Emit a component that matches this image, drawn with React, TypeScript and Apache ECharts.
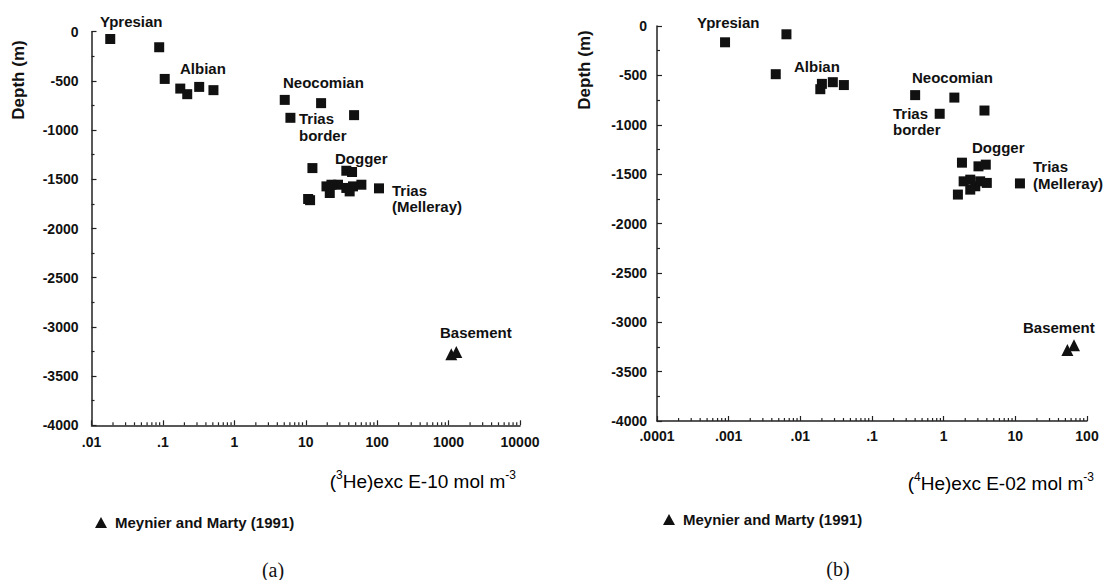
import React, { useEffect, useRef } from "react";
import * as echarts from "echarts";

// ---------- Data ----------
// Panel (a): (3He)exc (E-10 mol m-3) vs depth (m)
const aSquares: [number, number][] = [
  [0.0183, -74], [0.0887, -158], [0.106, -480], [0.175, -578], [0.219, -635], [0.322, -561], [0.51, -594],
  [5.08, -693], [16.4, -726], [6.1, -875], [47.5, -848],
  [12.4, -1386], [37, -1413], [44.5, -1426],
  [19.5, -1572], [21.7, -1639], [28.3, -1555], [37, -1588], [45.9, -1572], [60.1, -1555], [41.2, -1623], [22.9, -1555],
  [10.8, -1700], [11.5, -1712],
  [106, -1592],
];
const aTriangles: [number, number][] = [[1091, -3279], [1282, -3256]];

// Panel (b): (4He)exc (E-02 mol m-3) vs depth (m)
const bSquares: [number, number][] = [
  [0.00089, -165], [0.0064, -84], [0.00454, -488],
  [0.02, -586], [0.019, -640], [0.0284, -569], [0.0405, -598],
  [0.4, -700], [1.41, -725], [0.88, -889], [3.71, -856],
  [1.8, -1384], [3.06, -1421], [3.87, -1404],
  [1.9, -1573], [2.35, -1556], [2.76, -1623], [3.23, -1573], [4.0, -1589], [2.35, -1657], [1.58, -1707],
  [11.6, -1594],
];
const bTriangles: [number, number][] = [[53.2, -3280], [65.9, -3232]];

const aDecades = [0.01, 0.1, 1, 10, 100, 1000];
const bDecades = [0.0001, 0.001, 0.01, 0.1, 1, 10];
const minorMultipliers = [2, 3, 4, 5, 6, 7, 8, 9];

const depthMin = -4000;
const depthMax = 0;
const depthStep = 500;

const legendName = "Meynier and Marty (1991)";

const FONT = "Liberation Sans, Arial, Helvetica, sans-serif";
const INK = "#111";

function minorTicks(decades: number[]): [number, number][] {
  const out: [number, number][] = [];
  decades.forEach((d) => minorMultipliers.forEach((m) => out.push([Number((d * m).toPrecision(6)), depthMin])));
  return out;
}

function fmtLog(v: number): string {
  const s = String(Number(v.toPrecision(6)));
  return s.startsWith("0.") ? s.slice(1) : s;
}

const labelStyle = (text: string, x: number, y: number, size = 15) => ({
  type: "text",
  x,
  y,
  silent: true,
  style: {
    text,
    fill: INK,
    font: `bold ${size}px ${FONT}`,
    align: "left",
    verticalAlign: "middle",
    textAlign: "left",
    textVerticalAlign: "middle",
  },
});

export default function App() {
  const ref = useRef<HTMLDivElement>(null);

  useEffect(() => {
    if (!ref.current) return;
    const chart = echarts.init(ref.current, null, { renderer: "svg" });

    const axisLine = { show: true, onZero: false, lineStyle: { color: "#222", width: 1.5 } };

    const xAxisBase = (gridIndex: number, min: number, max: number, margin: number) => ({
      type: "log",
      gridIndex,
      logBase: 10,
      min,
      max,
      splitNumber: 6,
      axisLine,
      axisTick: { show: true, inside: true, length: 5, lineStyle: { color: "#222", width: 1.2 } },
      axisLabel: {
        formatter: fmtLog,
        margin,
        color: INK,
        fontFamily: FONT,
        fontWeight: "bold",
        fontSize: 14,
      },
      splitLine: { show: false },
    });

    const yAxisBase = (gridIndex: number, margin: number) => ({
      type: "value",
      gridIndex,
      min: depthMin,
      max: depthMax,
      interval: depthStep,
      axisLine,
      axisTick: { show: true, inside: true, length: 5, lineStyle: { color: "#222", width: 1.2 } },
      minorTick: { show: true, splitNumber: 2, length: 3, lineStyle: { color: "#222", width: 1.2 } },
      axisLabel: {
        formatter: (v: number) => String(v),
        margin,
        color: INK,
        fontFamily: FONT,
        fontWeight: "bold",
        fontSize: 14,
      },
      splitLine: { show: false },
      minorSplitLine: { show: false },
    });

    const minorTickSeries = (idx: number, data: [number, number][]) => ({
      type: "custom",
      xAxisIndex: idx,
      yAxisIndex: idx,
      silent: true,
      data,
      renderItem: (_p: any, api: any) => {
        const pt = api.coord([api.value(0), api.value(1)]);
        return {
          type: "line",
          shape: { x1: pt[0], y1: pt[1], x2: pt[0], y2: pt[1] - 3 },
          style: { stroke: "#222", lineWidth: 1.2 },
        };
      },
    });

    const rich = {
      a: { fontSize: 19, fontFamily: FONT, color: INK, lineHeight: 24 },
      s: { fontSize: 12, fontFamily: FONT, color: INK, lineHeight: 24, verticalAlign: "top" },
    };

    chart.setOption({
      animation: false,
      backgroundColor: "#fff",
      grid: [
        { left: 91.5, top: 31.7, width: 428.5, height: 393.6 },
        { left: 657, top: 26, width: 430, height: 395 },
      ],
      xAxis: [xAxisBase(0, 0.01, 10000, 10), xAxisBase(1, 0.0001, 100, 8)],
      yAxis: [yAxisBase(0, 13), yAxisBase(1, 10)],
      legend: [
        {
          data: [{ name: legendName, icon: "triangle" }],
          left: 90,
          top: 510,
          itemWidth: 12,
          itemHeight: 11,
          selectedMode: false,
          textStyle: { color: INK, fontFamily: FONT, fontWeight: "bold", fontSize: 15, padding: [0, 0, 0, 3] },
        },
        {
          data: [{ name: legendName, icon: "triangle" }],
          left: 658,
          top: 507,
          itemWidth: 12,
          itemHeight: 11,
          selectedMode: false,
          textStyle: { color: INK, fontFamily: FONT, fontWeight: "bold", fontSize: 15, padding: [0, 0, 0, 3] },
        },
      ],
      series: [
        {
          type: "scatter",
          name: "This study (a)",
          xAxisIndex: 0,
          yAxisIndex: 0,
          symbol: "rect",
          symbolSize: 10,
          itemStyle: { color: INK, opacity: 1 },
          data: aSquares,
        },
        {
          type: "scatter",
          name: legendName,
          xAxisIndex: 0,
          yAxisIndex: 0,
          symbol: "triangle",
          symbolSize: 12,
          itemStyle: { color: INK, opacity: 1 },
          data: aTriangles,
        },
        {
          type: "scatter",
          name: "This study (b)",
          xAxisIndex: 1,
          yAxisIndex: 1,
          symbol: "rect",
          symbolSize: 10,
          itemStyle: { color: INK, opacity: 1 },
          data: bSquares,
        },
        {
          type: "scatter",
          name: legendName,
          xAxisIndex: 1,
          yAxisIndex: 1,
          symbol: "triangle",
          symbolSize: 12,
          itemStyle: { color: INK, opacity: 1 },
          data: bTriangles,
        },
        minorTickSeries(0, minorTicks(aDecades)),
        minorTickSeries(1, minorTicks(bDecades)),
      ],
      graphic: [
        // Panel (a) annotations
        labelStyle("Ypresian", 100, 21),
        labelStyle("Albian", 180, 68),
        labelStyle("Neocomian", 283, 82),
        labelStyle("Trias", 299, 118),
        labelStyle("border", 299, 135),
        labelStyle("Dogger", 335, 158),
        labelStyle("Trias", 392, 190),
        labelStyle("(Melleray)", 392, 206),
        labelStyle("Basement", 440, 332),
        // Panel (b) annotations
        labelStyle("Ypresian", 697, 22),
        labelStyle("Albian", 794, 66),
        labelStyle("Neocomian", 912, 77),
        labelStyle("Trias", 893, 113),
        labelStyle("border", 893, 129),
        labelStyle("Dogger", 972, 147),
        labelStyle("Trias", 1033, 166),
        labelStyle("(Melleray)", 1033, 183),
        labelStyle("Basement", 1023, 327),
        // Y axis titles
        {
          type: "text",
          x: 18,
          y: 80,
          rotation: Math.PI / 2,
          silent: true,
          style: {
            text: "Depth (m)",
            fill: INK,
            font: `bold 17px ${FONT}`,
            align: "center",
            verticalAlign: "middle",
            textAlign: "center",
            textVerticalAlign: "middle",
          },
        },
        {
          type: "text",
          x: 584,
          y: 70,
          rotation: Math.PI / 2,
          silent: true,
          style: {
            text: "Depth (m)",
            fill: INK,
            font: `bold 17px ${FONT}`,
            align: "center",
            verticalAlign: "middle",
            textAlign: "center",
            textVerticalAlign: "middle",
          },
        },
        // X axis titles
        {
          type: "text",
          x: 516,
          y: 481,
          silent: true,
          style: {
            text: "{a|(}{s|3}{a|He)exc E-10 mol m}{s|-3}",
            rich,
            align: "right",
            verticalAlign: "middle",
            textAlign: "right",
            textVerticalAlign: "middle",
          },
        },
        {
          type: "text",
          x: 1094,
          y: 483,
          silent: true,
          style: {
            text: "{a|(}{s|4}{a|He)exc E-02 mol m}{s|-3}",
            rich,
            align: "right",
            verticalAlign: "middle",
            textAlign: "right",
            textVerticalAlign: "middle",
          },
        },
        // Panel letters
        {
          type: "text",
          x: 273,
          y: 570,
          silent: true,
          style: {
            text: "(a)",
            fill: INK,
            font: `20px Liberation Serif, Times New Roman, serif`,
            align: "center",
            verticalAlign: "middle",
            textAlign: "center",
            textVerticalAlign: "middle",
          },
        },
        {
          type: "text",
          x: 838,
          y: 569,
          silent: true,
          style: {
            text: "(b)",
            fill: INK,
            font: `20px Liberation Serif, Times New Roman, serif`,
            align: "center",
            verticalAlign: "middle",
            textAlign: "center",
            textVerticalAlign: "middle",
          },
        },
      ],
    });

    return () => chart.dispose();
  }, []);

  return (
    <div
      ref={ref}
      style={{ position: "absolute", left: 0, top: 0, width: 1107, height: 580, background: "#fff" }}
    />
  );
}
